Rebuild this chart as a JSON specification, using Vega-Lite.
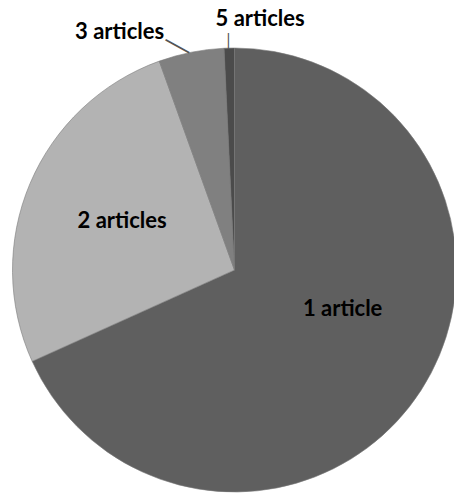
{
  "$schema": "https://vega.github.io/schema/vega-lite/v6.json",
  "width": 443,
  "height": 444,
  "autosize": {"type": "none"},
  "padding": {"left": 13, "top": 48, "right": 0, "bottom": 2},
  "background": "white",
  "config": {"view": {"stroke": null}},
  "data": {
    "values": [
      {"articles": 1, "label": "1 article", "count": 273},
      {"articles": 2, "label": "2 articles", "count": 105},
      {"articles": 3, "label": "3 articles", "count": 19},
      {"articles": 5, "label": "5 articles", "count": 3}
    ]
  },
  "encoding": {
    "theta": {"field": "count", "type": "quantitative", "stack": true},
    "order": {"field": "articles", "type": "quantitative"},
    "detail": {"field": "label", "type": "nominal"}
  },
  "layer": [
    {
      "mark": {"type": "arc", "radius": 222, "stroke": "#7a7a7a", "strokeWidth": 0.6},
      "encoding": {
        "color": {
          "field": "label",
          "type": "nominal",
          "scale": {
            "domain": ["1 article", "2 articles", "3 articles", "5 articles"],
            "range": ["#5f5f5f", "#b3b3b3", "#808080", "#4b4b4b"]
          },
          "legend": null
        }
      }
    },
    {
      "mark": {"type": "text", "radius": 118, "dx": 9, "dy": -25, "font": "Lato", "fontSize": 22, "fontWeight": "bold", "fill": "#000000"},
      "encoding": {"text": {"condition": {"test": "datum.articles === 1", "field": "label", "type": "nominal"}, "value": ""}}
    },
    {
      "mark": {"type": "text", "radius": 122, "dy": -1.5, "font": "Lato", "fontSize": 22, "fontWeight": "bold", "fill": "#000000"},
      "encoding": {"text": {"condition": {"test": "datum.articles === 2", "field": "label", "type": "nominal"}, "value": ""}}
    },
    {
      "mark": {"type": "text", "radius": 230, "dx": -70, "dy": -12, "font": "Lato", "fontSize": 22, "fontWeight": "bold", "fill": "#000000"},
      "encoding": {"text": {"condition": {"test": "datum.articles === 3", "field": "label", "type": "nominal"}, "value": ""}}
    },
    {
      "mark": {"type": "text", "radius": 229, "dx": 31, "dy": -22, "font": "Lato", "fontSize": 22, "fontWeight": "bold", "fill": "#000000"},
      "encoding": {"text": {"condition": {"test": "datum.articles === 5", "field": "label", "type": "nominal"}, "value": ""}}
    },
    {
      "mark": {"type": "text", "radius": 228, "dx": -11, "dy": 5, "angle": 29, "font": "Liberation Sans", "fontSize": 27, "fill": "#555555"},
      "encoding": {"text": {"condition": {"test": "datum.articles === 3", "value": "—"}, "value": ""}}
    },
    {
      "mark": {"type": "text", "radius": 229, "angle": 90, "font": "Liberation Sans", "fontSize": 16, "fill": "#555555"},
      "encoding": {"text": {"condition": {"test": "datum.articles === 5", "value": "—"}, "value": ""}}
    }
  ]
}
